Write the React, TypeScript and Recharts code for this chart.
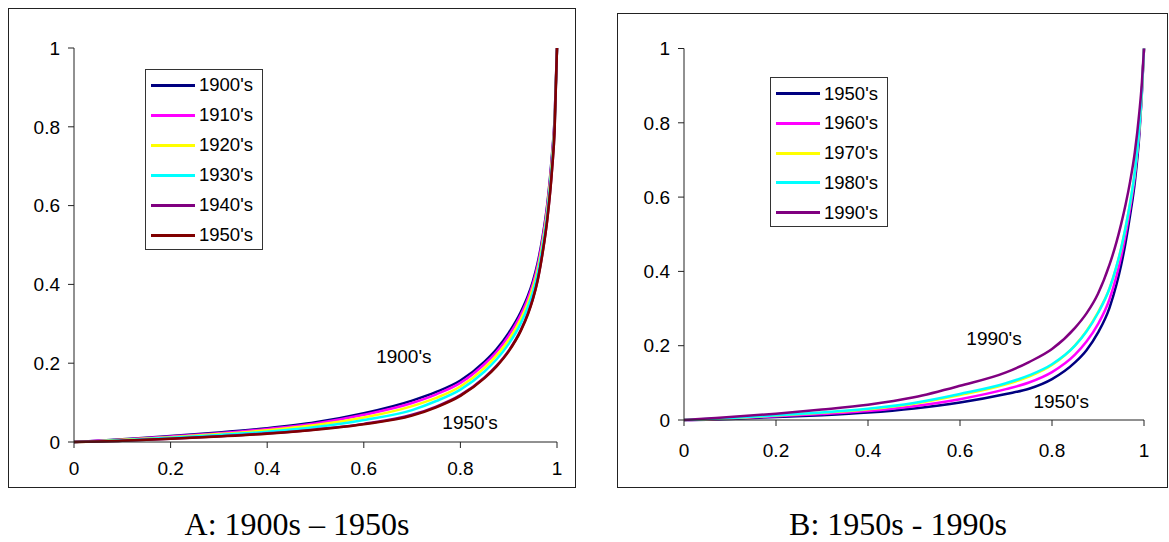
import React from "react"
import { LineChart, Line, XAxis, YAxis, ReferenceDot } from "recharts"

const FONT = "'Liberation Sans', Arial, sans-serif"
const AXIS = "#222"

// cumulative population share (x axis)
const xs = [0, 0.05, 0.1, 0.2, 0.3, 0.4, 0.5, 0.6, 0.7, 0.75, 0.8, 0.85, 0.875, 0.9, 0.925, 0.94, 0.95, 0.96, 0.97, 0.98, 0.99, 0.995, 1]
const ticks = [0, 0.2, 0.4, 0.6, 0.8, 1]

// panel A: 1900s - 1950s
const a1900 = [0, 0.003, 0.007, 0.015, 0.024, 0.035, 0.05, 0.073, 0.105, 0.127, 0.156, 0.204, 0.236, 0.277, 0.33, 0.372, 0.408, 0.455, 0.52, 0.605, 0.735, 0.82, 1]
const a1910 = [0, 0.003, 0.006, 0.014, 0.022, 0.033, 0.047, 0.069, 0.099, 0.121, 0.15, 0.198, 0.229, 0.27, 0.323, 0.365, 0.401, 0.448, 0.514, 0.599, 0.729, 0.815, 1]
const a1920 = [0, 0.002, 0.0055, 0.012, 0.02, 0.03, 0.043, 0.062, 0.091, 0.112, 0.141, 0.188, 0.22, 0.259, 0.312, 0.354, 0.391, 0.438, 0.504, 0.59, 0.72, 0.809, 1]
const a1930 = [0, 0.002, 0.0045, 0.011, 0.018, 0.026, 0.038, 0.056, 0.081, 0.104, 0.133, 0.179, 0.21, 0.249, 0.301, 0.344, 0.38, 0.428, 0.495, 0.581, 0.711, 0.802, 1]
const a1940 = [0, 0.001, 0.003, 0.008, 0.0145, 0.022, 0.032, 0.046, 0.069, 0.09, 0.119, 0.164, 0.194, 0.232, 0.284, 0.327, 0.364, 0.412, 0.48, 0.567, 0.697, 0.792, 1]
const a1950 = [0, 0.001, 0.003, 0.008, 0.014, 0.021, 0.031, 0.045, 0.067, 0.088, 0.117, 0.162, 0.192, 0.23, 0.282, 0.325, 0.362, 0.41, 0.478, 0.565, 0.695, 0.79, 1]

// panel B: 1950s - 1990s
const b1950 = [0, 0.001, 0.003, 0.008, 0.013, 0.02, 0.031, 0.047, 0.07, 0.084, 0.11, 0.155, 0.188, 0.235, 0.302, 0.364, 0.415, 0.478, 0.553, 0.64, 0.77, 0.87, 1]
const b1960 = [0, 0.0015, 0.004, 0.01, 0.016, 0.024, 0.037, 0.056, 0.083, 0.101, 0.129, 0.176, 0.211, 0.258, 0.325, 0.387, 0.438, 0.499, 0.571, 0.656, 0.782, 0.876, 1]
const b1970 = [0, 0.002, 0.005, 0.012, 0.0195, 0.029, 0.044, 0.067, 0.096, 0.117, 0.148, 0.201, 0.24, 0.29, 0.354, 0.412, 0.46, 0.518, 0.585, 0.667, 0.79, 0.879, 1]
const b1980 = [0, 0.0025, 0.0055, 0.0125, 0.0205, 0.0305, 0.046, 0.07, 0.099, 0.12, 0.15, 0.2, 0.238, 0.288, 0.354, 0.413, 0.461, 0.519, 0.586, 0.668, 0.791, 0.88, 1]
const b1990 = [0, 0.004, 0.008, 0.017, 0.028, 0.041, 0.061, 0.092, 0.128, 0.156, 0.191, 0.248, 0.287, 0.34, 0.418, 0.478, 0.526, 0.58, 0.643, 0.72, 0.83, 0.9, 1]

type Series = { name: string; color: string; values: number[] }

const seriesA: Series[] = [
  { name: "1900's", color: "#000080", values: a1900 },
  { name: "1910's", color: "#FF00FF", values: a1910 },
  { name: "1920's", color: "#FFFF00", values: a1920 },
  { name: "1930's", color: "#00FFFF", values: a1930 },
  { name: "1940's", color: "#800080", values: a1940 },
  { name: "1950's", color: "#800000", values: a1950 },
]

const seriesB: Series[] = [
  { name: "1950's", color: "#000080", values: b1950 },
  { name: "1960's", color: "#FF00FF", values: b1960 },
  { name: "1970's", color: "#FFFF00", values: b1970 },
  { name: "1980's", color: "#00FFFF", values: b1980 },
  { name: "1990's", color: "#800080", values: b1990 },
]

function toRows(series: Series[]) {
  return xs.map((x, i) => {
    const row: Record<string, number> = { x }
    series.forEach((s) => {
      row[s.name] = s.values[i]
    })
    return row
  })
}

function LegendBox({ series, style, first, step }: { series: Series[]; style: React.CSSProperties; first: number; step: number }) {
  return (
    <div style={{ position: "absolute", border: "1px solid #333", boxSizing: "border-box", background: "#fff", ...style }}>
      {series.map((s, i) => (
        <div key={s.name} style={{ position: "absolute", left: 0, top: first + i * step - 12, height: 24, width: "100%" }}>
          <div style={{ position: "absolute", left: 5, top: 10.5, width: 44, height: 3, background: s.color }} />
          <div style={{ position: "absolute", left: 53, top: 0, lineHeight: "24px", fontSize: 18.5, fontFamily: FONT, color: "#000" }}>
            {s.name}
          </div>
        </div>
      ))}
    </div>
  )
}

type PanelProps = {
  series: Series[]
  width: number
  height: number
  margin: { top: number; right: number; bottom: number; left: number }
  xTickMargin: number
  notes: { x: number; y: number; text: string }[]
}

function Panel({ series, width, height, margin, xTickMargin, notes }: PanelProps) {
  const tick = { fontSize: 19, fontFamily: FONT, fill: "#000" }
  return (
    <LineChart width={width} height={height} data={toRows(series)} margin={margin}>
      <XAxis
        dataKey="x"
        type="number"
        domain={[0, 1]}
        ticks={ticks}
        stroke={AXIS}
        tick={tick}
        tickSize={6}
        tickMargin={xTickMargin}
        height={40}
      />
      <YAxis
        type="number"
        domain={[0, 1]}
        ticks={ticks}
        stroke={AXIS}
        tick={tick}
        tickSize={6}
        tickMargin={8}
        width={60}
      />
      {series.map((s) => (
        <Line
          key={s.name}
          type="monotone"
          dataKey={s.name}
          stroke={s.color}
          strokeWidth={2.5}
          dot={false}
          isAnimationActive={false}
        />
      ))}
      {notes.map((n) => (
        <ReferenceDot
          key={n.text + n.x}
          x={n.x}
          y={n.y}
          r={0}
          fill="none"
          stroke="none"
          label={{ value: n.text, position: "center", fontSize: 19, fontFamily: FONT, fill: "#000" }}
        />
      ))}
    </LineChart>
  )
}

export default function App() {
  const title: React.CSSProperties = {
    position: "absolute",
    top: 508,
    width: 400,
    textAlign: "center",
    fontFamily: "'Liberation Serif', 'Times New Roman', serif",
    fontSize: 32,
    lineHeight: "32px",
    color: "#000",
    whiteSpace: "nowrap",
  }
  return (
    <div style={{ position: "absolute", left: 0, top: 0, width: 1169, height: 542, background: "#fff", overflow: "hidden" }}>
      <div style={{ position: "absolute", left: 8, top: 8, width: 568, height: 480, border: `1px solid ${AXIS}`, boxSizing: "border-box" }} />
      <div style={{ position: "absolute", left: 617, top: 13, width: 551, height: 475, border: `1px solid ${AXIS}`, boxSizing: "border-box" }} />

      <div style={{ position: "absolute", left: 0, top: 0 }}>
        <Panel
          series={seriesA}
          width={600}
          height={500}
          margin={{ top: 48, right: 43, bottom: 18, left: 14 }}
          xTickMargin={14}
          notes={[
            { x: 0.683, y: 0.218, text: "1900's" },
            { x: 0.82, y: 0.05, text: "1950's" },
          ]}
        />
      </div>
      <div style={{ position: "absolute", left: 600, top: 0 }}>
        <Panel
          series={seriesB}
          width={569}
          height={500}
          margin={{ top: 48.5, right: 25, bottom: 40, left: 24 }}
          xTickMargin={18}
          notes={[
            { x: 0.674, y: 0.221, text: "1990's" },
            { x: 0.82, y: 0.051, text: "1950's" },
          ]}
        />
      </div>

      <LegendBox series={seriesA} first={15} step={30} style={{ left: 145, top: 69, width: 118, height: 181 }} />
      <LegendBox series={seriesB} first={15.5} step={29.8} style={{ left: 770, top: 77, width: 118, height: 150 }} />

      <div style={{ ...title, left: 97 }}>A: 1900s – 1950s</div>
      <div style={{ ...title, left: 698 }}>B: 1950s - 1990s</div>
    </div>
  )
}
